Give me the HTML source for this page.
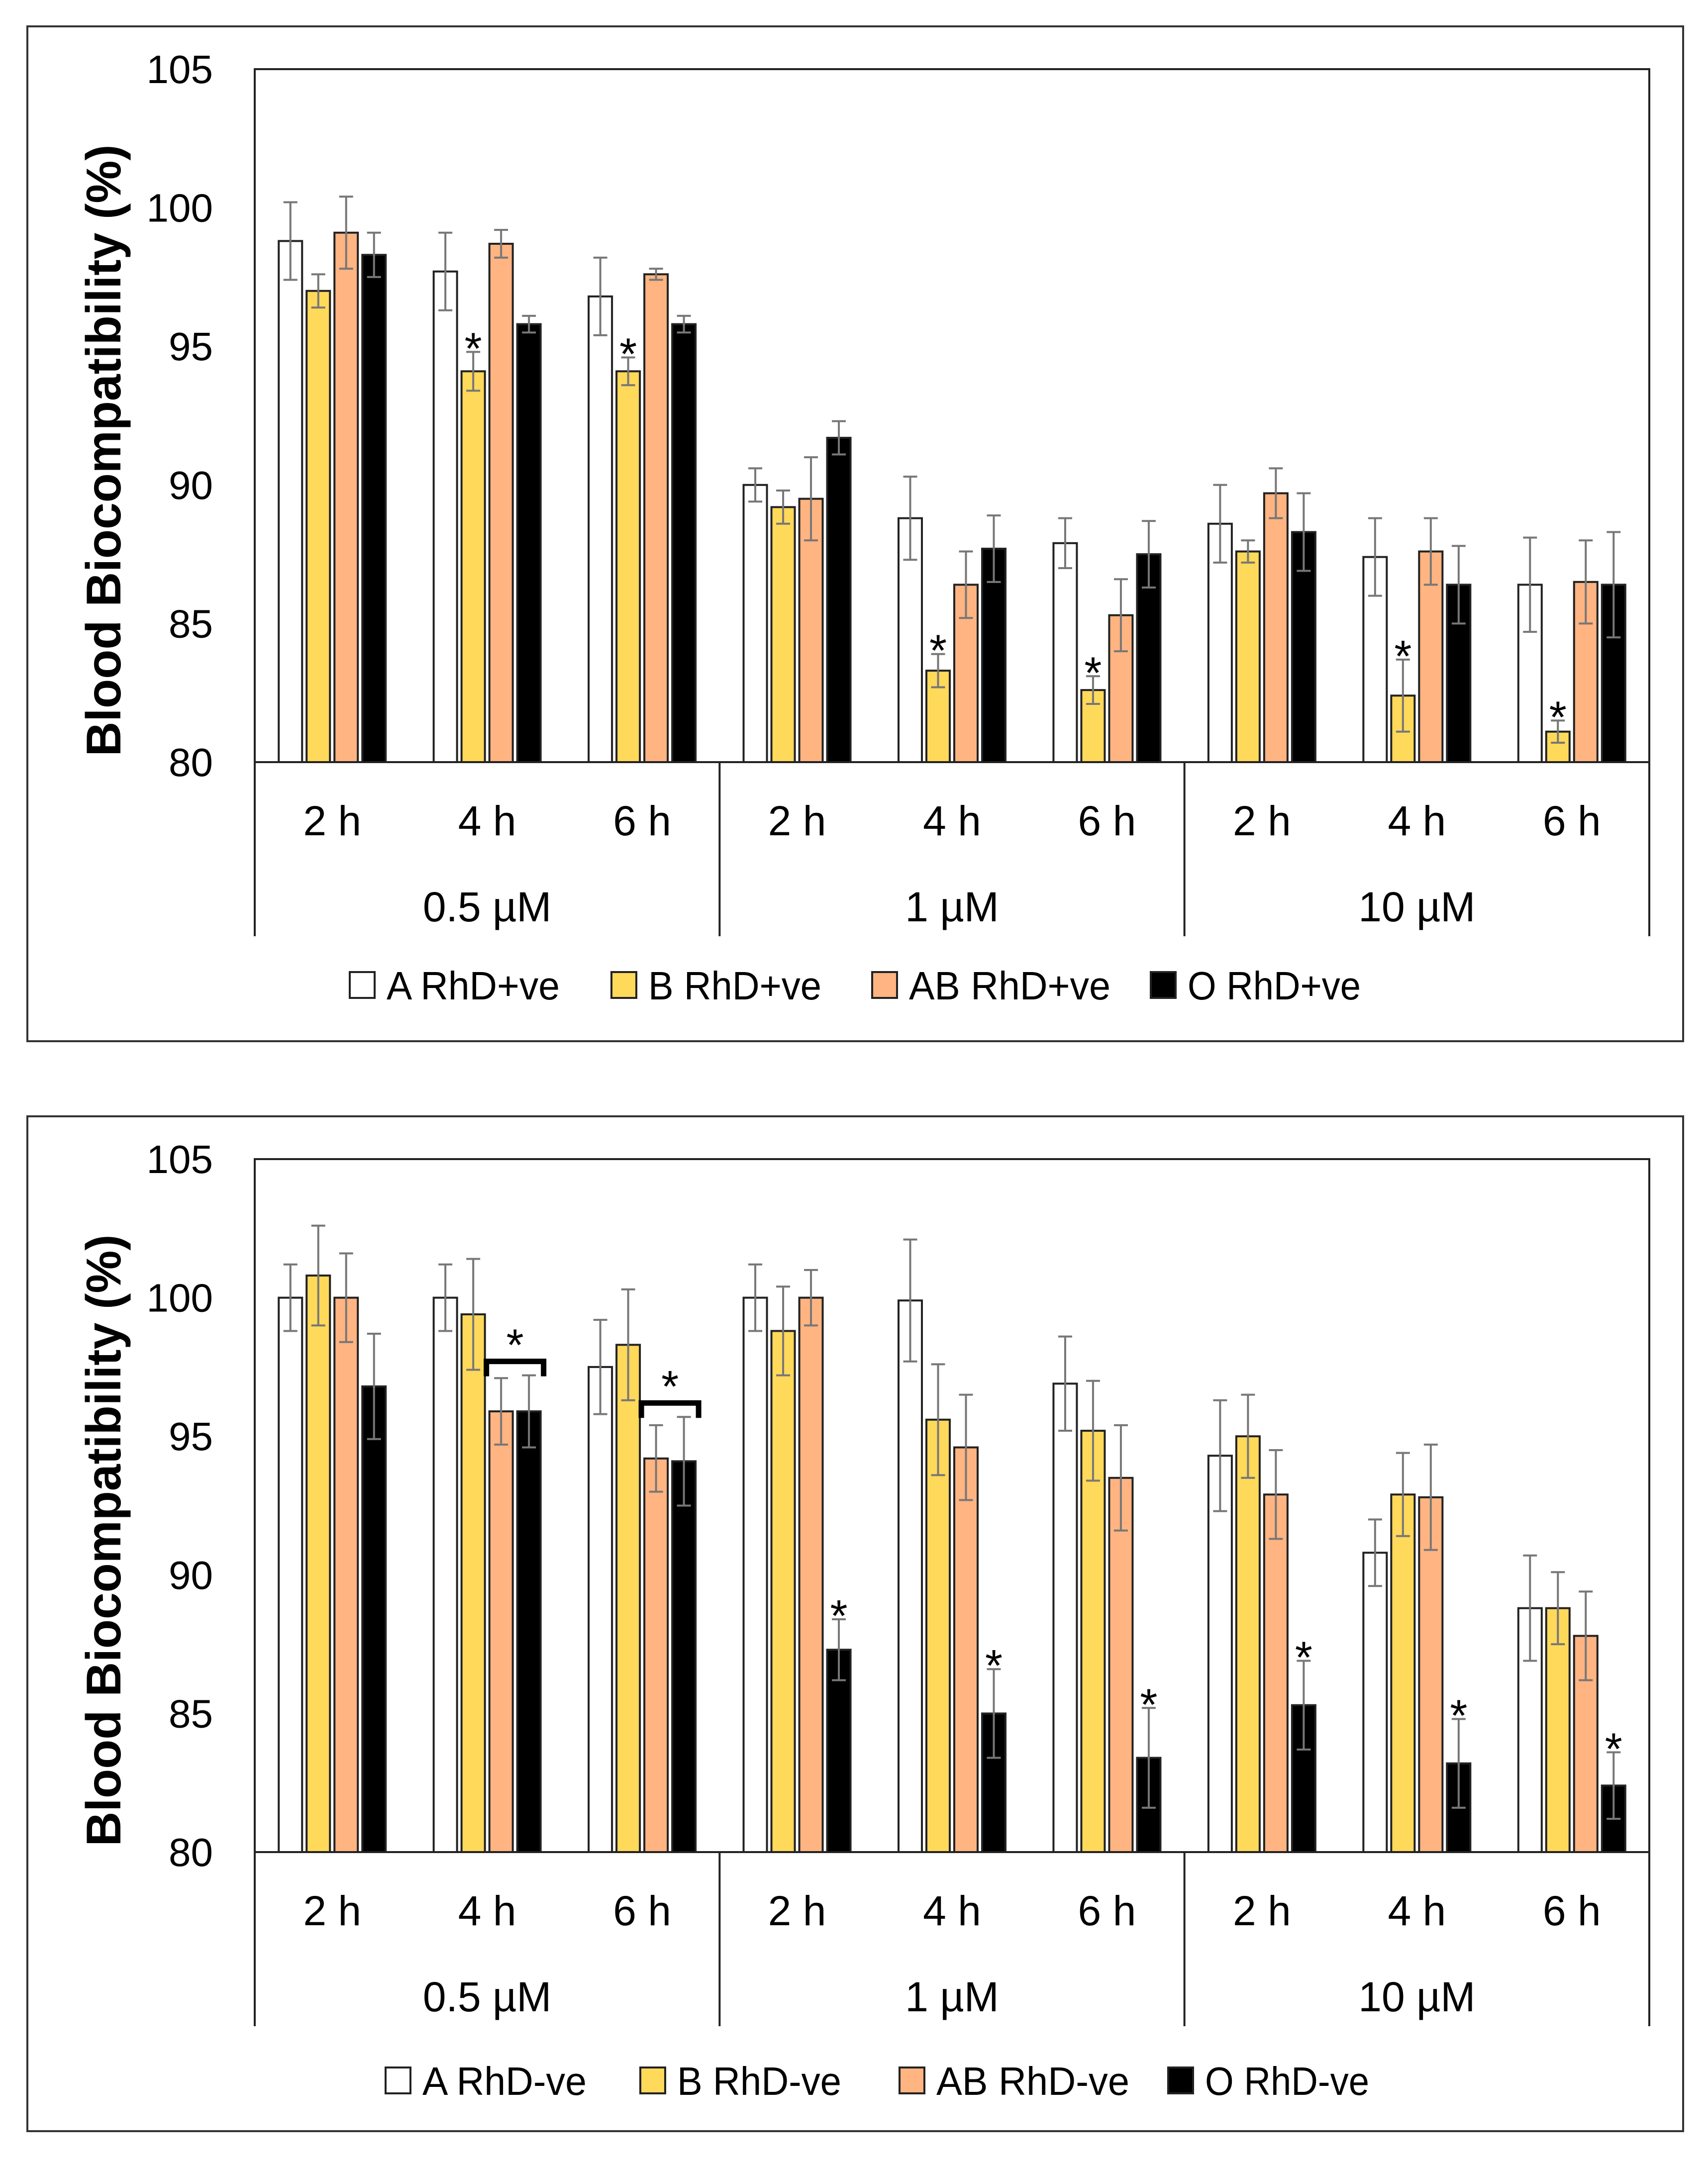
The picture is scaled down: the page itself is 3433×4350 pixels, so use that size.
<!DOCTYPE html>
<html><head><meta charset="utf-8">
<style>
html,body{margin:0;padding:0;background:#fff;}
svg{display:block;}
text{font-family:"Liberation Sans",sans-serif;fill:#000;}
</style></head>
<body>
<svg id="chart" width="3433" height="4350" viewBox="0 0 3433 4350" xmlns="http://www.w3.org/2000/svg"></svg>
<script>
// ---- data ----
const hours = ["2 h","4 h","6 h","2 h","4 h","6 h","2 h","4 h","6 h"];
const concentrations = ["0.5 µM","1 µM","10 µM"];
const yTicks = [80,85,90,95,100,105];
const seriesNamesTop = ["A RhD+ve","B RhD+ve","AB RhD+ve","O RhD+ve"];
const seriesNamesBottom = ["A RhD-ve","B RhD-ve","AB RhD-ve","O RhD-ve"];

const topA = [98.8,97.7,96.8,90.0,88.8,87.9,88.6,87.4,86.4];
const topB = [97.0,94.1,94.1,89.2,83.3,82.6,87.6,82.4,81.1];
const topAB = [99.1,98.7,97.6,89.5,86.4,85.3,89.7,87.6,86.5];
const topO = [98.3,95.8,95.8,91.7,87.7,87.5,88.3,86.4,86.4];
const topAerr = [1.4,1.4,1.4,0.6,1.5,0.9,1.4,1.4,1.7];
const topBerr = [0.6,0.7,0.5,0.6,0.6,0.5,0.4,1.3,0.4];
const topABerr = [1.3,0.5,0.2,1.5,1.2,1.3,0.9,1.2,1.5];
const topOerr = [0.8,0.3,0.3,0.6,1.2,1.2,1.4,1.4,1.9];
const topStarsB = [false,true,true,false,true,true,false,true,true];

const botA = [100,100,97.5,100,99.9,96.9,94.3,90.8,88.8];
const botB = [100.8,99.4,98.3,98.8,95.6,95.2,95.0,92.9,88.8];
const botAB = [100,95.9,94.2,100,94.6,93.5,92.9,92.8,87.8];
const botO = [96.8,95.9,94.1,87.3,85.0,83.4,85.3,83.2,82.4];
const botAerr = [1.2,1.2,1.7,1.2,2.2,1.7,2.0,1.2,1.9];
const botBerr = [1.8,2.0,2.0,1.6,2.0,1.8,1.5,1.5,1.3];
const botABerr = [1.6,1.2,1.2,1.0,1.9,1.9,1.6,1.9,1.6];
const botOerr = [1.9,1.3,1.6,1.1,1.6,1.8,1.6,1.6,1.2];
const botStarsO = [false,false,false,true,true,true,true,true,true];
const botBrackets = [false,true,true,false,false,false,false,false,false];

const fills = ["#FFFFFF","#FFD95A","#FFB482","#000000"];

const NS = "http://www.w3.org/2000/svg";
const svg = document.getElementById("chart");
function mk(tag, attrs, parent){
  const e = document.createElementNS(NS, tag);
  for (const k in attrs) e.setAttribute(k, attrs[k]);
  (parent||svg).appendChild(e);
  return e;
}

function drawPanel(cfg){
  const off = cfg.off;
  const L = 512, R = 3315, T = 139 + off, B = 1532 + off;
  const yMin = 80, yMax = 105;
  const y = v => B - (v - yMin) / (yMax - yMin) * (B - T);
  const gW = (R - L) / hours.length;
  const bw = 47, step = 56;
  const barX = (g, s) => L + g * gW + (gW - (3 * step + bw)) / 2 + s * step;

  const g = mk("g", {});
  
  

  const frame = mk("rect", {x:55, y:53+off, width:3328, height:2040, fill:"none", stroke:"#333", "stroke-width":4}, g);
  
  

  const plot = mk("rect", {x:L, y:T, width:R-L, height:B-T, fill:"none", stroke:"#222", "stroke-width":4}, g);
  
  

  yTicks.forEach(t => {
    const tx = mk("text", {x:428, y:y(t)+28, "text-anchor":"end", "font-size":80}, g);
    tx.textContent = t;
    
    
  });

  const yt = mk("text", {x:0, y:0, "text-anchor":"middle", "font-size":98, "font-weight":"bold",
    transform:`translate(242 ${(T+B)/2+70}) rotate(-90)`, textLength:1230, lengthAdjust:"spacingAndGlyphs"}, g);
  yt.textContent = "Blood Biocompatibility (%)";
  
  

  const seriesVals = cfg.values, seriesErr = cfg.errors;
  for (let gi = 0; gi < hours.length; gi++){
    for (let s = 0; s < 4; s++){
      const v = seriesVals[s][gi];
      const x = barX(gi, s);
      const r = mk("rect", {x:x, y:y(v), width:bw, height:B - y(v), fill:fills[s], stroke:"#222", "stroke-width":4}, g);
      
      
      const e = seriesErr[s][gi];
      const cx = x + bw/2;
      const eg = mk("path", {d:`M${cx} ${y(v+e)}V${y(v-e)}M${cx-14} ${y(v+e)}h28M${cx-14} ${y(v-e)}h28`,
        stroke:"#777", "stroke-width":4, fill:"none"}, g);
      
      
    }
    if (cfg.stars[gi]){
      const s = cfg.starSeries;
      const v = seriesVals[s][gi] + seriesErr[s][gi];
      const st = mk("text", {x:barX(gi,s)+bw/2, y:y(v)+24, "text-anchor":"middle", "font-size":90}, g);
      st.textContent = "*";
      
      
    }
    if (cfg.brackets && cfg.brackets[gi]){
      const top = Math.max(seriesVals[2][gi]+seriesErr[2][gi], seriesVals[3][gi]+seriesErr[3][gi]);
      const by = y(top) - 28;
      const x1 = barX(gi,2)-6, x2 = barX(gi,3)+bw+6;
      const br = mk("path", {d:`M${x1} ${by+30}V${by}H${x2}V${by+30}`, stroke:"#000", "stroke-width":11, fill:"none"}, g);
      
      
      const st = mk("text", {x:(x1+x2)/2, y:by-2, "text-anchor":"middle", "font-size":90}, g);
      st.textContent = "*";
      
      
    }
  }

  // category axis
  for (let c = 0; c <= concentrations.length; c++){
    const x = L + c * 3 * gW;
    const ln = mk("line", {x1:x, y1:B, x2:x, y2:B+350, stroke:"#222", "stroke-width":4}, g);
    
    
  }
  hours.forEach((h, i) => {
    const tx = mk("text", {x:L + (i+0.5)*gW, y:B+147, "text-anchor":"middle", "font-size":84}, g);
    tx.textContent = h;
    
    
  });
  concentrations.forEach((c, i) => {
    const tx = mk("text", {x:L + (i*3+1.5)*gW, y:B+320, "text-anchor":"middle", "font-size":84}, g);
    tx.textContent = c;
    
    
  });

  // legend
  const ly = cfg.legendY;
  cfg.series.forEach((n, s) => {
    const lg = mk("g", {}, g);
    
    
    const sw = mk("rect", {x:cfg.legendX[s], y:ly-26, width:50, height:52, fill:fills[s], stroke:"#222", "stroke-width":4}, lg);
    
    
    const tx = mk("text", {x:cfg.legendX[s]+74, y:ly+29, "font-size":80, textLength:cfg.legendW[s], lengthAdjust:"spacingAndGlyphs"}, lg);
    tx.textContent = n;
    
    
  });
}

drawPanel({name:"chart-rhd-positive", off:0, series:seriesNamesTop,
  values:[topA,topB,topAB,topO], errors:[topAerr,topBerr,topABerr,topOerr],
  stars:topStarsB, starSeries:1, brackets:null,
  legendY:1980, legendX:[703,1229,1753,2313], legendW:[348,348,405,348]});

drawPanel({name:"chart-rhd-negative", off:2191, series:seriesNamesBottom,
  values:[botA,botB,botAB,botO], errors:[botAerr,botBerr,botABerr,botOerr],
  stars:botStarsO, starSeries:3, brackets:botBrackets,
  legendY:4182, legendX:[775,1287,1808,2348], legendW:[330,330,388,330]});
</script>
</body></html>
